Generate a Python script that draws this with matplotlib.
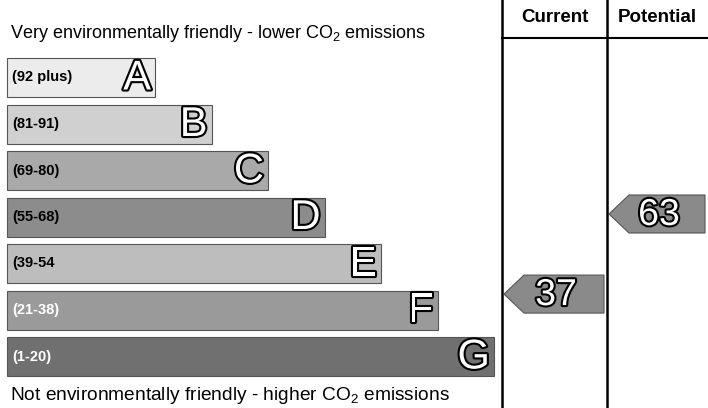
import matplotlib.pyplot as plt
import matplotlib.patheffects as pe
from matplotlib.patches import Polygon

plt.rcParams['font.family'] = ['Liberation Sans', 'DejaVu Sans']
plt.rcParams['mathtext.fontset'] = 'custom'
plt.rcParams['mathtext.rm'] = 'Liberation Sans'
plt.rcParams['mathtext.it'] = 'Liberation Sans'

# bands, top (best) to bottom (worst)
letters = ['A', 'B', 'C', 'D', 'E', 'F', 'G']
ranges = ['(92 plus)', '(81-91)', '(69-80)', '(55-68)', '(39-54', '(21-38)', '(1-20)']
bar_colors = ['#ececec', '#d0d0d0', '#a9a9a9', '#8c8c8c', '#bdbdbd', '#9a9a9a', '#707070']
label_colors = ['black', 'black', 'black', 'black', 'black', 'white', 'white']

columns = ['Current', 'Potential']
scores = [37, 63]
arrow_color = '#8a8a8a'

fig = plt.figure(figsize=(7.08, 4.08), dpi=100)
ax = fig.add_axes([0, 0, 1, 1])
ax.set_xlim(0, 708)
ax.set_ylim(408, 0)
ax.axis('off')

outline = [pe.withStroke(linewidth=3, foreground='black')]

# rating bars
for i, (letter, rng) in enumerate(zip(letters, ranges)):
    y = 77.5 + 46.5 * i
    width = 148 + 56.5 * i
    ax.barh(y, width, left=7, height=39, color=bar_colors[i],
            edgecolor='#555555', linewidth=0.8)
    ax.text(12, y, rng, fontsize=10.5, fontweight='bold', color=label_colors[i],
            va='center', ha='left')
    ax.text(7 + width - 4, y + 1, letter, fontsize=30, color='white',
            va='center', ha='right', path_effects=outline)

ax.text(10, 33, r'Very environmentally friendly - lower CO$_2$ emissions',
        fontsize=13, va='center', ha='left')
ax.text(10, 396, r'Not environmentally friendly - higher CO$_2$ emissions',
        fontsize=13.8, va='center', ha='left')

# columns
col_left = [502, 607]
col_right = [607, 708]
for x in col_left:
    ax.plot([x, x], [0, 408], color='black', linewidth=1.8)
ax.plot([502, 708], [38, 38], color='black', linewidth=1.5)
for name, l, r in zip(columns, col_left, col_right):
    ax.text((l + r) / 2, 18, name, fontsize=13.5, fontweight='bold',
            ha='center', va='center')


# score arrows: vertical position follows the score
def score_y(v):
    return 214 + (63 - v) * 3.08


for s, l, r in zip(scores, col_left, col_right):
    y = score_y(s)
    tip = l + 2
    right = r - 3
    h = 19
    pts = [(tip, y), (tip + 20, y - h), (right, y - h), (right, y + h), (tip + 20, y + h)]
    ax.add_patch(Polygon(pts, closed=True, facecolor=arrow_color,
                         edgecolor='#555555', linewidth=0.8))
    ax.text((tip + right) / 2 + 2, y + 1, str(s), fontsize=27, color='white',
            ha='center', va='center', path_effects=outline)

fig.savefig('out.png', dpi=100)
